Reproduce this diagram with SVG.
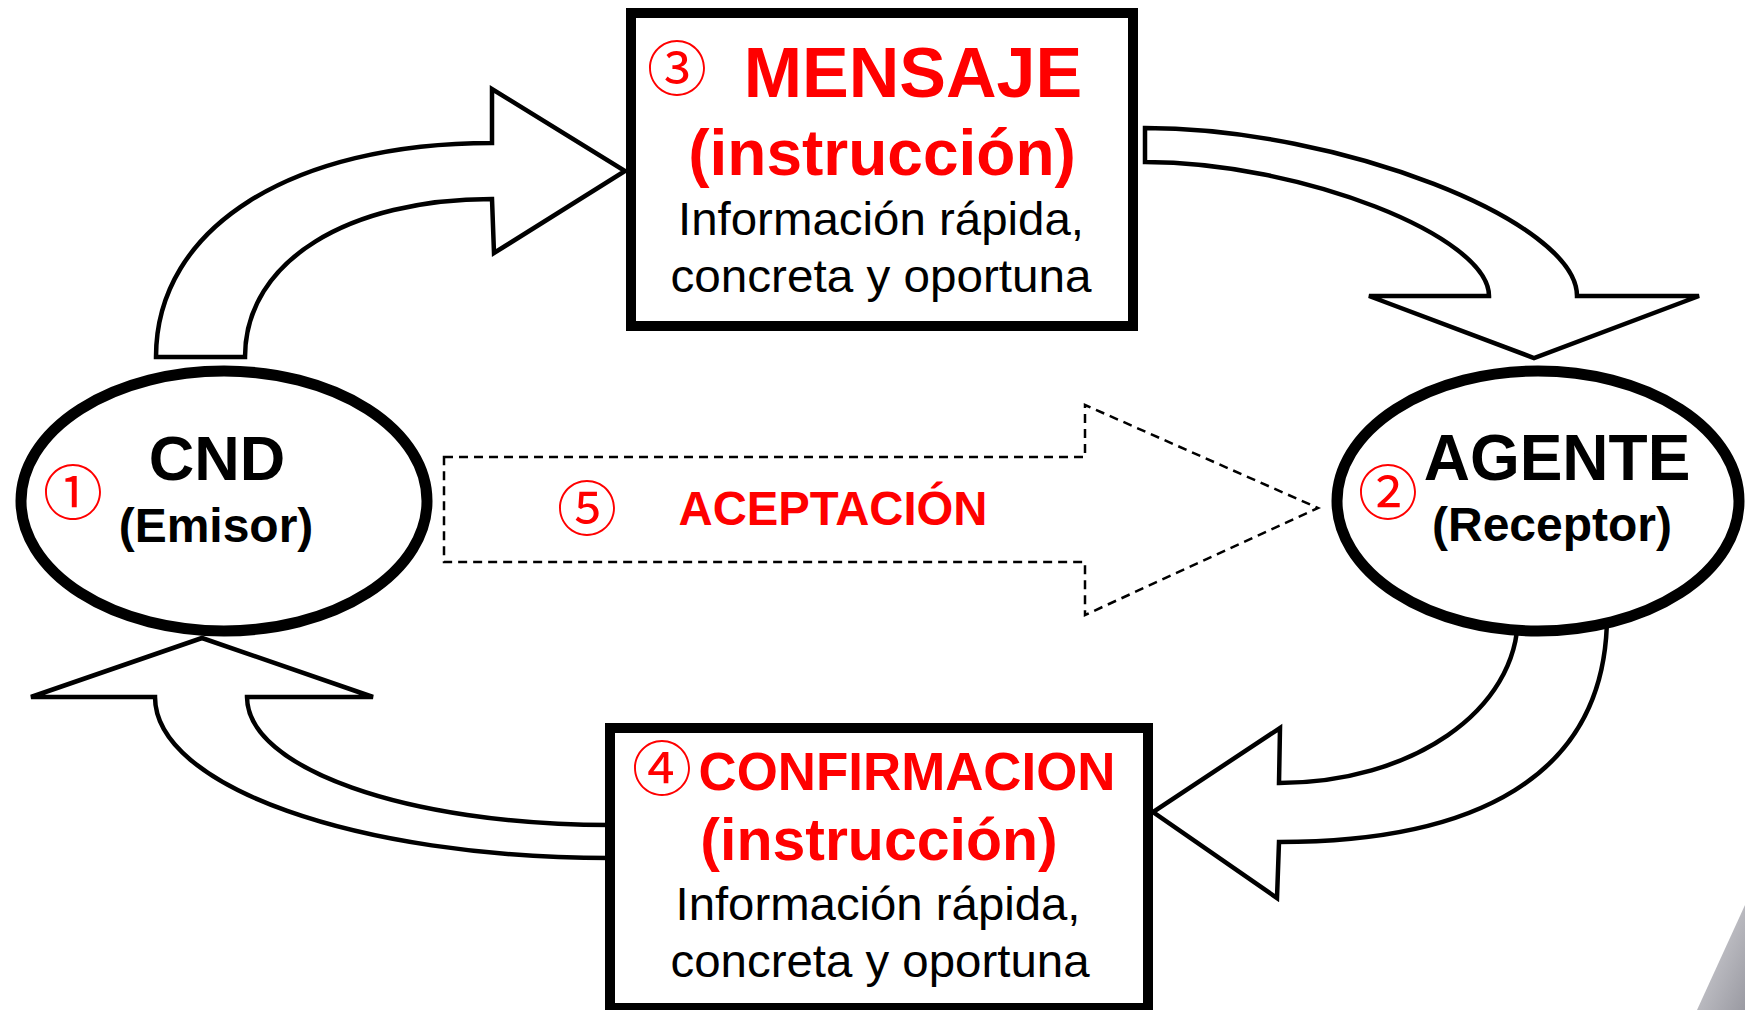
<svg xmlns="http://www.w3.org/2000/svg" width="1745" height="1010" viewBox="0 0 1745 1010">
<defs>
<linearGradient id="gr" x1="0" y1="0" x2="1" y2="1">
<stop offset="0" stop-color="#d8d8dc"/>
<stop offset="1" stop-color="#9a9aa2"/>
</linearGradient>
<style>
.arrow{fill:#fff;stroke:#000;stroke-width:4.5;stroke-linejoin:miter}
.dash{fill:none;stroke:#000;stroke-width:2.5;stroke-dasharray:9 6}
.node{fill:#fff;stroke:#000;stroke-width:10}
.ell{fill:#fff;stroke:#000;stroke-width:11}
.b{font-family:"Liberation Sans",Arial,sans-serif;font-weight:bold;text-anchor:middle}
.r{font-family:"Liberation Sans",Arial,sans-serif;text-anchor:middle;fill:#000}
.red{fill:#ff0000}
.num{font-family:"Noto Sans CJK JP","DejaVu Sans",sans-serif;fill:#ff0000;text-anchor:middle;font-size:60px}
</style>
</defs>
<rect width="1745" height="1010" fill="#fff"/>
<polygon points="1745,905 1745,1010 1697,1010" fill="url(#gr)"/>
<g id="connectors">
<path class="arrow" d="M156,357 C156,227 292,143 492,143 L492,89 L625,171 L494,253 L492,199 C350,199 245,260 245,357 Z"/>
<path class="arrow" d="M1145,128 C1339,128 1577,221 1577,296 L1699,296 L1534,358 L1369,296 L1489,296 C1489,236 1300,162 1145,162 Z"/>
<path class="arrow" d="M1518,615 C1518,712 1410,783 1279,783 L1280,728 L1153,812 L1277,898 L1279,842 C1470,842 1607,780 1607,615 Z"/>
<path class="arrow" d="M610,858 C356,858 155,786 155,697 L31,697 L202,638 L373,697 L247,697 C247,768 406,825 610,825 Z"/>
<path class="dash" d="M444,457 L1085,457 L1085,405 L1318,508 L1085,615 L1085,562 L444,562 Z"/>
<text class="num" x="587" y="531">⑤</text>
<text class="b red" x="833" y="525" font-size="48" textLength="309" lengthAdjust="spacingAndGlyphs">ACEPTACIÓN</text>
</g>
<g id="cnd">
<ellipse class="ell" cx="224" cy="501" rx="203" ry="130"/>
<text class="num" x="73" y="515">①</text>
<text class="b" x="217" y="480" font-size="63">CND</text>
<text class="b" x="216" y="542" font-size="48">(Emisor)</text>
</g>
<g id="agente">
<ellipse class="ell" cx="1538" cy="501" rx="201" ry="130"/>
<text class="num" x="1388" y="515">②</text>
<text class="b" x="1557" y="480" font-size="64">AGENTE</text>
<text class="b" x="1552" y="541" font-size="48">(Receptor)</text>
</g>
<g id="mensaje">
<rect class="node" x="631" y="13" width="502" height="313"/>
<text class="num" x="677" y="91">③</text>
<text class="b red" x="913" y="97" font-size="70">MENSAJE</text>
<text class="b red" x="882" y="175" font-size="64">(instrucción)</text>
<text class="r" x="881" y="235" font-size="47" textLength="406" lengthAdjust="spacingAndGlyphs">Información rápida,</text>
<text class="r" x="881" y="292" font-size="47" textLength="421" lengthAdjust="spacingAndGlyphs">concreta y oportuna</text>
</g>
<g id="confirmacion">
<rect class="node" x="610" y="728" width="538" height="280"/>
<text class="num" x="662" y="791">④</text>
<text class="b red" x="907" y="790" font-size="53" textLength="417" lengthAdjust="spacingAndGlyphs">CONFIRMACION</text>
<text class="b red" x="879" y="860" font-size="59">(instrucción)</text>
<text class="r" x="878" y="920" font-size="47" textLength="405" lengthAdjust="spacingAndGlyphs">Información rápida,</text>
<text class="r" x="880" y="977" font-size="47" textLength="419" lengthAdjust="spacingAndGlyphs">concreta y oportuna</text>
</g>
</svg>
